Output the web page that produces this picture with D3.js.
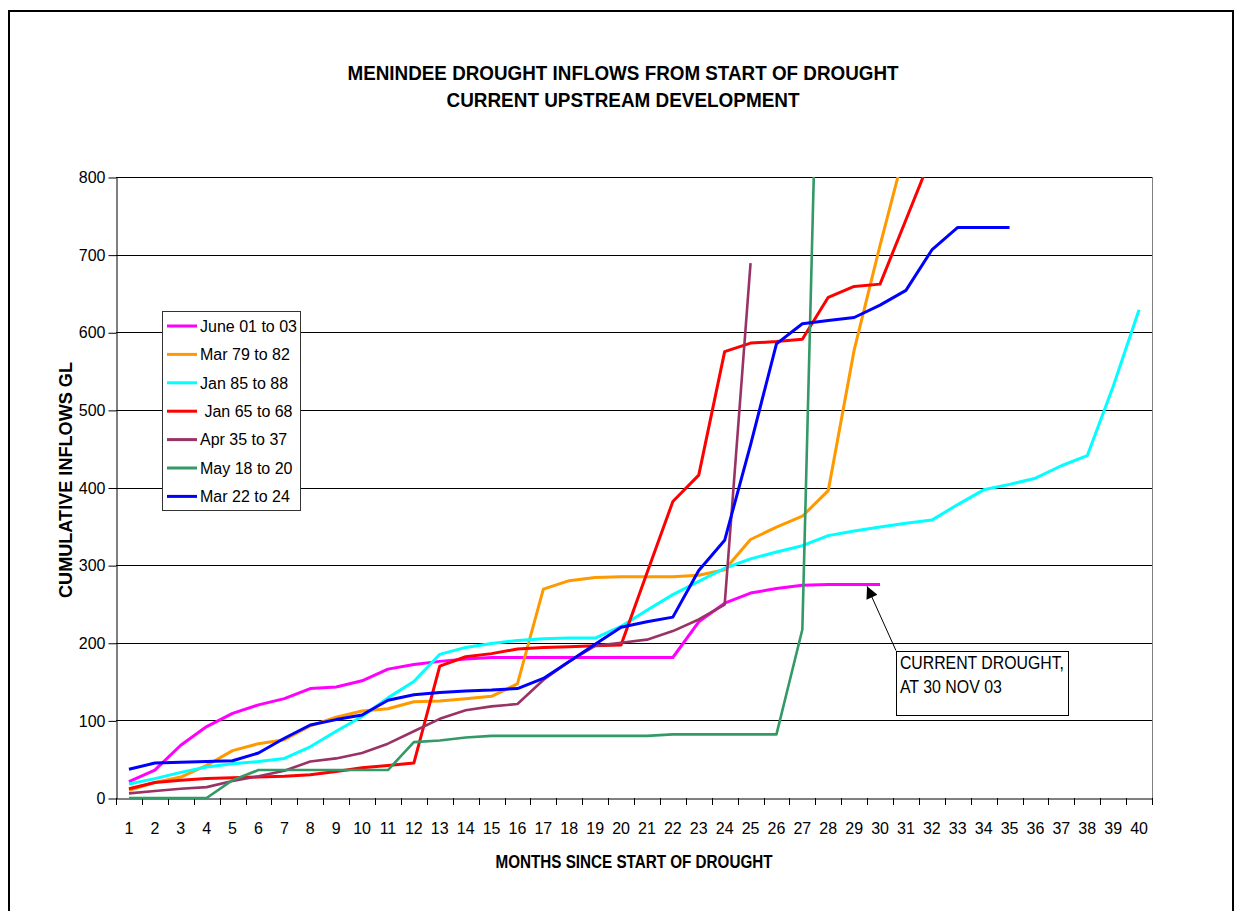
<!DOCTYPE html>
<html><head><meta charset="utf-8">
<script src="https://cdn.jsdelivr.net/npm/d3@7"></script>
<style>
body{margin:0;background:#fff;}
svg text{font-family:"Liberation Sans",Arial,sans-serif;fill:#000;}
</style>
</head><body>
<script>
// ---------- DATA ----------
const months = d3.range(1, 41);
const yTickValues = [0, 100, 200, 300, 400, 500, 600, 700, 800];
const seriesNames = ["June 01 to 03", "Mar 79 to 82", "Jan 85 to 88", " Jan 65 to 68", "Apr 35 to 37", "May 18 to 20", "Mar 22 to 24"];
const seriesColors = ["#FF00FF", "#FF9900", "#00FFFF", "#FF0000", "#993366", "#339966", "#0000FF"];

const june01to03 = [21, 36, 68, 92, 109, 120, 128, 141, 143, 151, 166, 172, 176, 179, 181, 181, 181, 181, 181, 181, 181, 181, 227, 251, 264, 270, 274, 275, 275, 275];
const mar79to82 = [10, 20, 27, 42, 61, 70, 75, 93, 104, 112, 115, 124, 125, 128, 131, 147, 269, 280, 284, 285, 285, 285, 287, 294, 333, 349, 363, 396, 577, 712, 840];
const jan85to88 = [18, 25, 33, 40, 44, 47, 51, 66, 86, 105, 129, 150, 185, 194, 199, 203, 205, 206, 206, 221, 242, 262, 279, 296, 308, 317, 325, 338, 344, 349, 354, 358, 378, 397, 404, 412, 428, 441, 530, 629];
const jan65to68 = [12, 20, 23, 25, 26, 27, 28, 30, 34, 39, 42, 45, 170, 182, 186, 192, 194, 195, 196, 197, 290, 382, 416, 575, 586, 588, 591, 645, 659, 662, 745, 828];
const apr35to37 = [6, 9, 12, 14, 22, 28, 35, 47, 51, 58, 70, 86, 102, 113, 118, 121, 152, 176, 196, 200, 204, 215, 230, 249, 689];
const may18to20 = [0, 0, 0, 0, 23, 36, 36, 36, 36, 36, 36, 72, 74, 78, 80, 80, 80, 80, 80, 80, 80, 82, 82, 82, 82, 82, 217, 1540];
const mar22to24 = [37, 45, 46, 47, 48, 58, 77, 94, 101, 107, 126, 133, 136, 138, 139, 141, 154, 176, 198, 220, 227, 233, 293, 332, 455, 585, 611, 615, 619, 635, 654, 706, 735, 735, 735];

const seriesValues = [june01to03, mar79to82, jan85to88, jan65to68, apr35to37, may18to20, mar22to24];
const series = seriesNames.map((name, i) => ({name, color: seriesColors[i], values: seriesValues[i]}));

const titleLines = ["MENINDEE DROUGHT INFLOWS FROM START OF DROUGHT", "CURRENT UPSTREAM DEVELOPMENT"];
const xTitle = "MONTHS SINCE START OF DROUGHT";
const yTitle = "CUMULATIVE INFLOWS GL";
const noteLines = ["CURRENT DROUGHT,", "AT 30 NOV 03"];
const notePoint = {month: 30, value: 274};

// ---------- LAYOUT ----------
const W = 1235, H = 911;
const plot = {left: 116, right: 1152, top: 177, bottom: 798};

const svg = d3.select("body").append("svg").attr("width", W).attr("height", H);

// outer chart border
svg.append("rect").attr("x", 9).attr("y", 11).attr("width", 1224).attr("height", 940)
  .attr("fill", "none").attr("stroke", "#000").attr("stroke-width", 2);

const x = d3.scaleBand().domain(months).range([plot.left, plot.right]).padding(0);
const xc = m => x(m) + x.bandwidth() / 2;
const y = d3.scaleLinear().domain([0, 800]).range([plot.bottom, plot.top]);

// titles
svg.append("text").attr("x", 623).attr("y", 80).attr("text-anchor", "middle")
  .attr("font-size", 20).attr("font-weight", "bold")
  .attr("textLength", 551).attr("lengthAdjust", "spacingAndGlyphs").text(titleLines[0]);
svg.append("text").attr("x", 623).attr("y", 107).attr("text-anchor", "middle")
  .attr("font-size", 20).attr("font-weight", "bold")
  .attr("textLength", 353).attr("lengthAdjust", "spacingAndGlyphs").text(titleLines[1]);

// gridlines
svg.append("g").selectAll("line").data(yTickValues.filter(v => v > 0)).join("line")
  .attr("x1", plot.left).attr("x2", plot.right)
  .attr("y1", d => Math.round(y(d)) + 0.5).attr("y2", d => Math.round(y(d)) + 0.5)
  .attr("stroke", "#000").attr("stroke-width", 1);

// right plot border (grey)
svg.append("line").attr("x1", plot.right + 0.5).attr("x2", plot.right + 0.5)
  .attr("y1", plot.top).attr("y2", plot.bottom).attr("stroke", "#808080").attr("stroke-width", 1);

// y axis
const yAxis = svg.append("g").attr("transform", `translate(${plot.left + 0.5},0.5)`)
  .call(d3.axisLeft(y).tickValues(yTickValues).tickSize(8).tickSizeOuter(0).tickPadding(3));
yAxis.selectAll("text").attr("font-size", 16).style("font-family", '"Liberation Sans",Arial,sans-serif');
yAxis.selectAll("line,path").attr("stroke", "#000");
yAxis.attr("font-family", null);

// x axis (labels from axis, ticks at band boundaries)
const xAxis = svg.append("g").attr("transform", `translate(0,${plot.bottom + 0.5})`)
  .call(d3.axisBottom(x).tickSize(0).tickSizeOuter(0).tickPadding(24));
xAxis.selectAll("text").attr("font-size", 16).style("font-family", '"Liberation Sans",Arial,sans-serif');
xAxis.select("path").attr("stroke", "#000");
xAxis.attr("font-family", null);
const bounds = months.map(m => x(m)).concat([x(months[months.length - 1]) + x.bandwidth()]);
svg.append("g").selectAll("line").data(bounds).join("line")
  .attr("x1", d => Math.round(d) + 0.5).attr("x2", d => Math.round(d) + 0.5)
  .attr("y1", plot.bottom).attr("y2", plot.bottom + 7)
  .attr("stroke", "#000");

// axis titles
svg.append("text").attr("x", 634).attr("y", 868).attr("text-anchor", "middle")
  .attr("font-size", 18).attr("font-weight", "bold")
  .attr("textLength", 277).attr("lengthAdjust", "spacingAndGlyphs").text(xTitle);
svg.append("text").attr("transform", "translate(72,480) rotate(-90)").attr("text-anchor", "middle")
  .attr("font-size", 19).attr("font-weight", "bold")
  .attr("textLength", 236).attr("lengthAdjust", "spacingAndGlyphs").text(yTitle);

// clip for lines
svg.append("defs").append("clipPath").attr("id", "plotclip").append("rect")
  .attr("x", plot.left).attr("y", plot.top).attr("width", plot.right - plot.left).attr("height", plot.bottom - plot.top + 3);

const line = d3.line().x((d, i) => xc(months[i])).y(d => y(d));
svg.append("g").attr("clip-path", "url(#plotclip)").selectAll("path").data(series).join("path")
  .attr("d", d => line(d.values))
  .attr("fill", "none").attr("stroke", d => d.color)
  .attr("stroke-width", d => (d.name.startsWith("Apr") || d.name.startsWith("May")) ? 2.6 : 3)
  .attr("stroke-linejoin", "round");

// legend
const lg = svg.append("g");
lg.append("rect").attr("x", 162.5).attr("y", 311.5).attr("width", 138).attr("height", 199)
  .attr("fill", "#fff").attr("stroke", "#333");
const rows = lg.selectAll("g.row").data(series).join("g").attr("class", "row")
  .attr("transform", (d, i) => `translate(0,${326 + i * 28.4})`);
rows.append("line").attr("x1", 167).attr("x2", 197).attr("y1", 0).attr("y2", 0)
  .attr("stroke", d => d.color).attr("stroke-width", 3);
rows.append("text").attr("x", 200).attr("y", 0).attr("dy", "0.36em").attr("font-size", 16)
  .style("white-space", "pre").attr("xml:space", "preserve").text(d => d.name);

// annotation
svg.select("defs").append("marker").attr("id", "arrow").attr("viewBox", "0 0 10 10")
  .attr("refX", 10).attr("refY", 5).attr("markerWidth", 15).attr("markerHeight", 12)
  .attr("markerUnits", "userSpaceOnUse").attr("orient", "auto")
  .append("path").attr("d", "M0,0 L10,5 L0,10 z").attr("fill", "#000");
const boxX = xc(31) - 10, boxY = y(190);
svg.append("line").attr("x1", boxX).attr("y1", boxY)
  .attr("x2", xc(notePoint.month) - 13).attr("y2", y(notePoint.value) + 1)
  .attr("stroke", "#000").attr("stroke-width", 1).attr("marker-end", "url(#arrow)");
svg.append("rect").attr("x", Math.round(boxX) + 0.5).attr("y", Math.round(boxY) + 0.5)
  .attr("width", 172).attr("height", 64).attr("fill", "#fff").attr("stroke", "#000");
svg.append("text").attr("x", boxX + 4).attr("y", boxY + 18).attr("font-size", 18)
  .attr("textLength", 164).attr("lengthAdjust", "spacingAndGlyphs").text(noteLines[0]);
svg.append("text").attr("x", boxX + 4).attr("y", boxY + 42).attr("font-size", 18)
  .attr("textLength", 102).attr("lengthAdjust", "spacingAndGlyphs").text(noteLines[1]);
</script>
</body></html>
